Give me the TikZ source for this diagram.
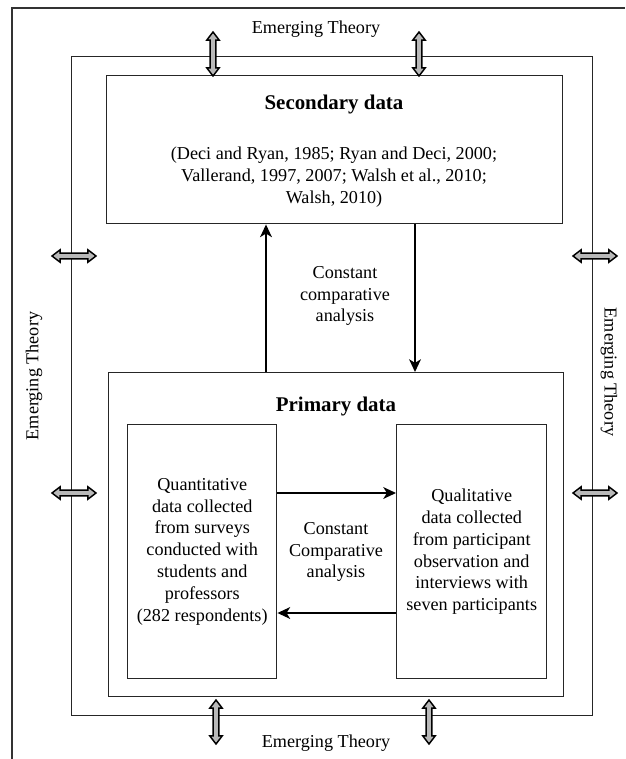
\documentclass[tikz,border=0pt]{standalone}
\usepackage{fontspec}
\setmainfont{Liberation Serif}
\usetikzlibrary{arrows.meta,shapes.arrows}

\newcommand{\pxu}{0.55pt}

\begin{document}
\begin{tikzpicture}[
x=\pxu, y=-\pxu,
box/.style={draw=black!85, line width=0.8pt, anchor=north west, inner sep=0pt},
txt/.style={align=center, inner sep=0pt},
head/.style={font=\fontsize{11.5}{14}\selectfont\bfseries, inner sep=0pt},
flow/.style={line width=0.9pt, -{Stealth[length=7pt,width=6.5pt,inset=2pt]}},
theory/.style={double arrow, draw=black, fill=gray!55, line width=0.8pt,
    minimum height=44*\pxu, inner sep=1.2pt,
    double arrow head extend=1.8pt, double arrow tip angle=75},
]
\useasboundingbox (0,0) rectangle (625,759);

% outer frame and middle frame
\draw[black!80, line width=0.7pt] (12,759) -- (12,8) -- (625,8);
\node[box, minimum width=521*\pxu, minimum height=659*\pxu] (frame) at (71,56) {};

% secondary data
\node[box, minimum width=456*\pxu, minimum height=148*\pxu] (secondary) at (106,75) {};
\node[head] (sectitle) at (334,105) {Secondary data};
\node[txt] (sectext) at (334,177) {(Deci and Ryan, 1985; Ryan and Deci, 2000;\\
Vallerand, 1997, 2007; Walsh et al., 2010;\\ Walsh, 2010)};

% primary data
\node[box, minimum width=455*\pxu, minimum height=324*\pxu] (primary) at (108,372) {};
\node[head] (primtitle) at (336,407) {Primary data};
\node[box, minimum width=149*\pxu, minimum height=254*\pxu] (quant) at (127,424) {};
\node[box, minimum width=150*\pxu, minimum height=254*\pxu] (qual) at (396,424) {};
\node[txt] (quanttext) at (quant.center) {Quantitative\\ data collected\\ from surveys\\
conducted with\\ students and\\ professors\\ (282 respondents)};
\node[txt] (qualtext) at (qual.center) {Qualitative\\ data collected\\ from participant\\
observation and\\ interviews with\\ seven participants};

% constant comparison
\coordinate (upx) at (266,0);
\coordinate (downx) at (415,0);
\coordinate (r1) at (0,493);
\coordinate (r2) at (0,613);
\draw[flow] (upx |- primary.north) -- (upx |- secondary.south);
\draw[flow] (downx |- secondary.south) -- (downx |- primary.north);
\draw[flow] (quant.east |- r1) -- (qual.west |- r1);
\draw[flow] (qual.west |- r2) -- (quant.east |- r2);
\node[txt] (cca1) at (345,296) {Constant\\ comparative\\ analysis};
\node[txt] (cca2) at (336,552) {Constant\\ Comparative\\ analysis};

% emerging theory
\node[txt] (ettop) at (316,29) {Emerging Theory};
\node[txt] (etbottom) at (326,743) {Emerging Theory};
\node[txt, rotate=90] (etleft) at (34,376) {Emerging Theory};
\node[txt, rotate=-90] (etright) at (609,372) {Emerging Theory};
\node[theory, rotate=90] (t1) at (213,54) {};
\node[theory, rotate=90] (t2) at (419,54) {};
\node[theory, rotate=90] (t3) at (216,722) {};
\node[theory, rotate=90] (t4) at (429,722) {};
\node[theory] (t5) at (74,256) {};
\node[theory] (t6) at (74,493) {};
\node[theory] (t7) at (595,256) {};
\node[theory] (t8) at (595,493) {};

\end{tikzpicture}
\end{document}
